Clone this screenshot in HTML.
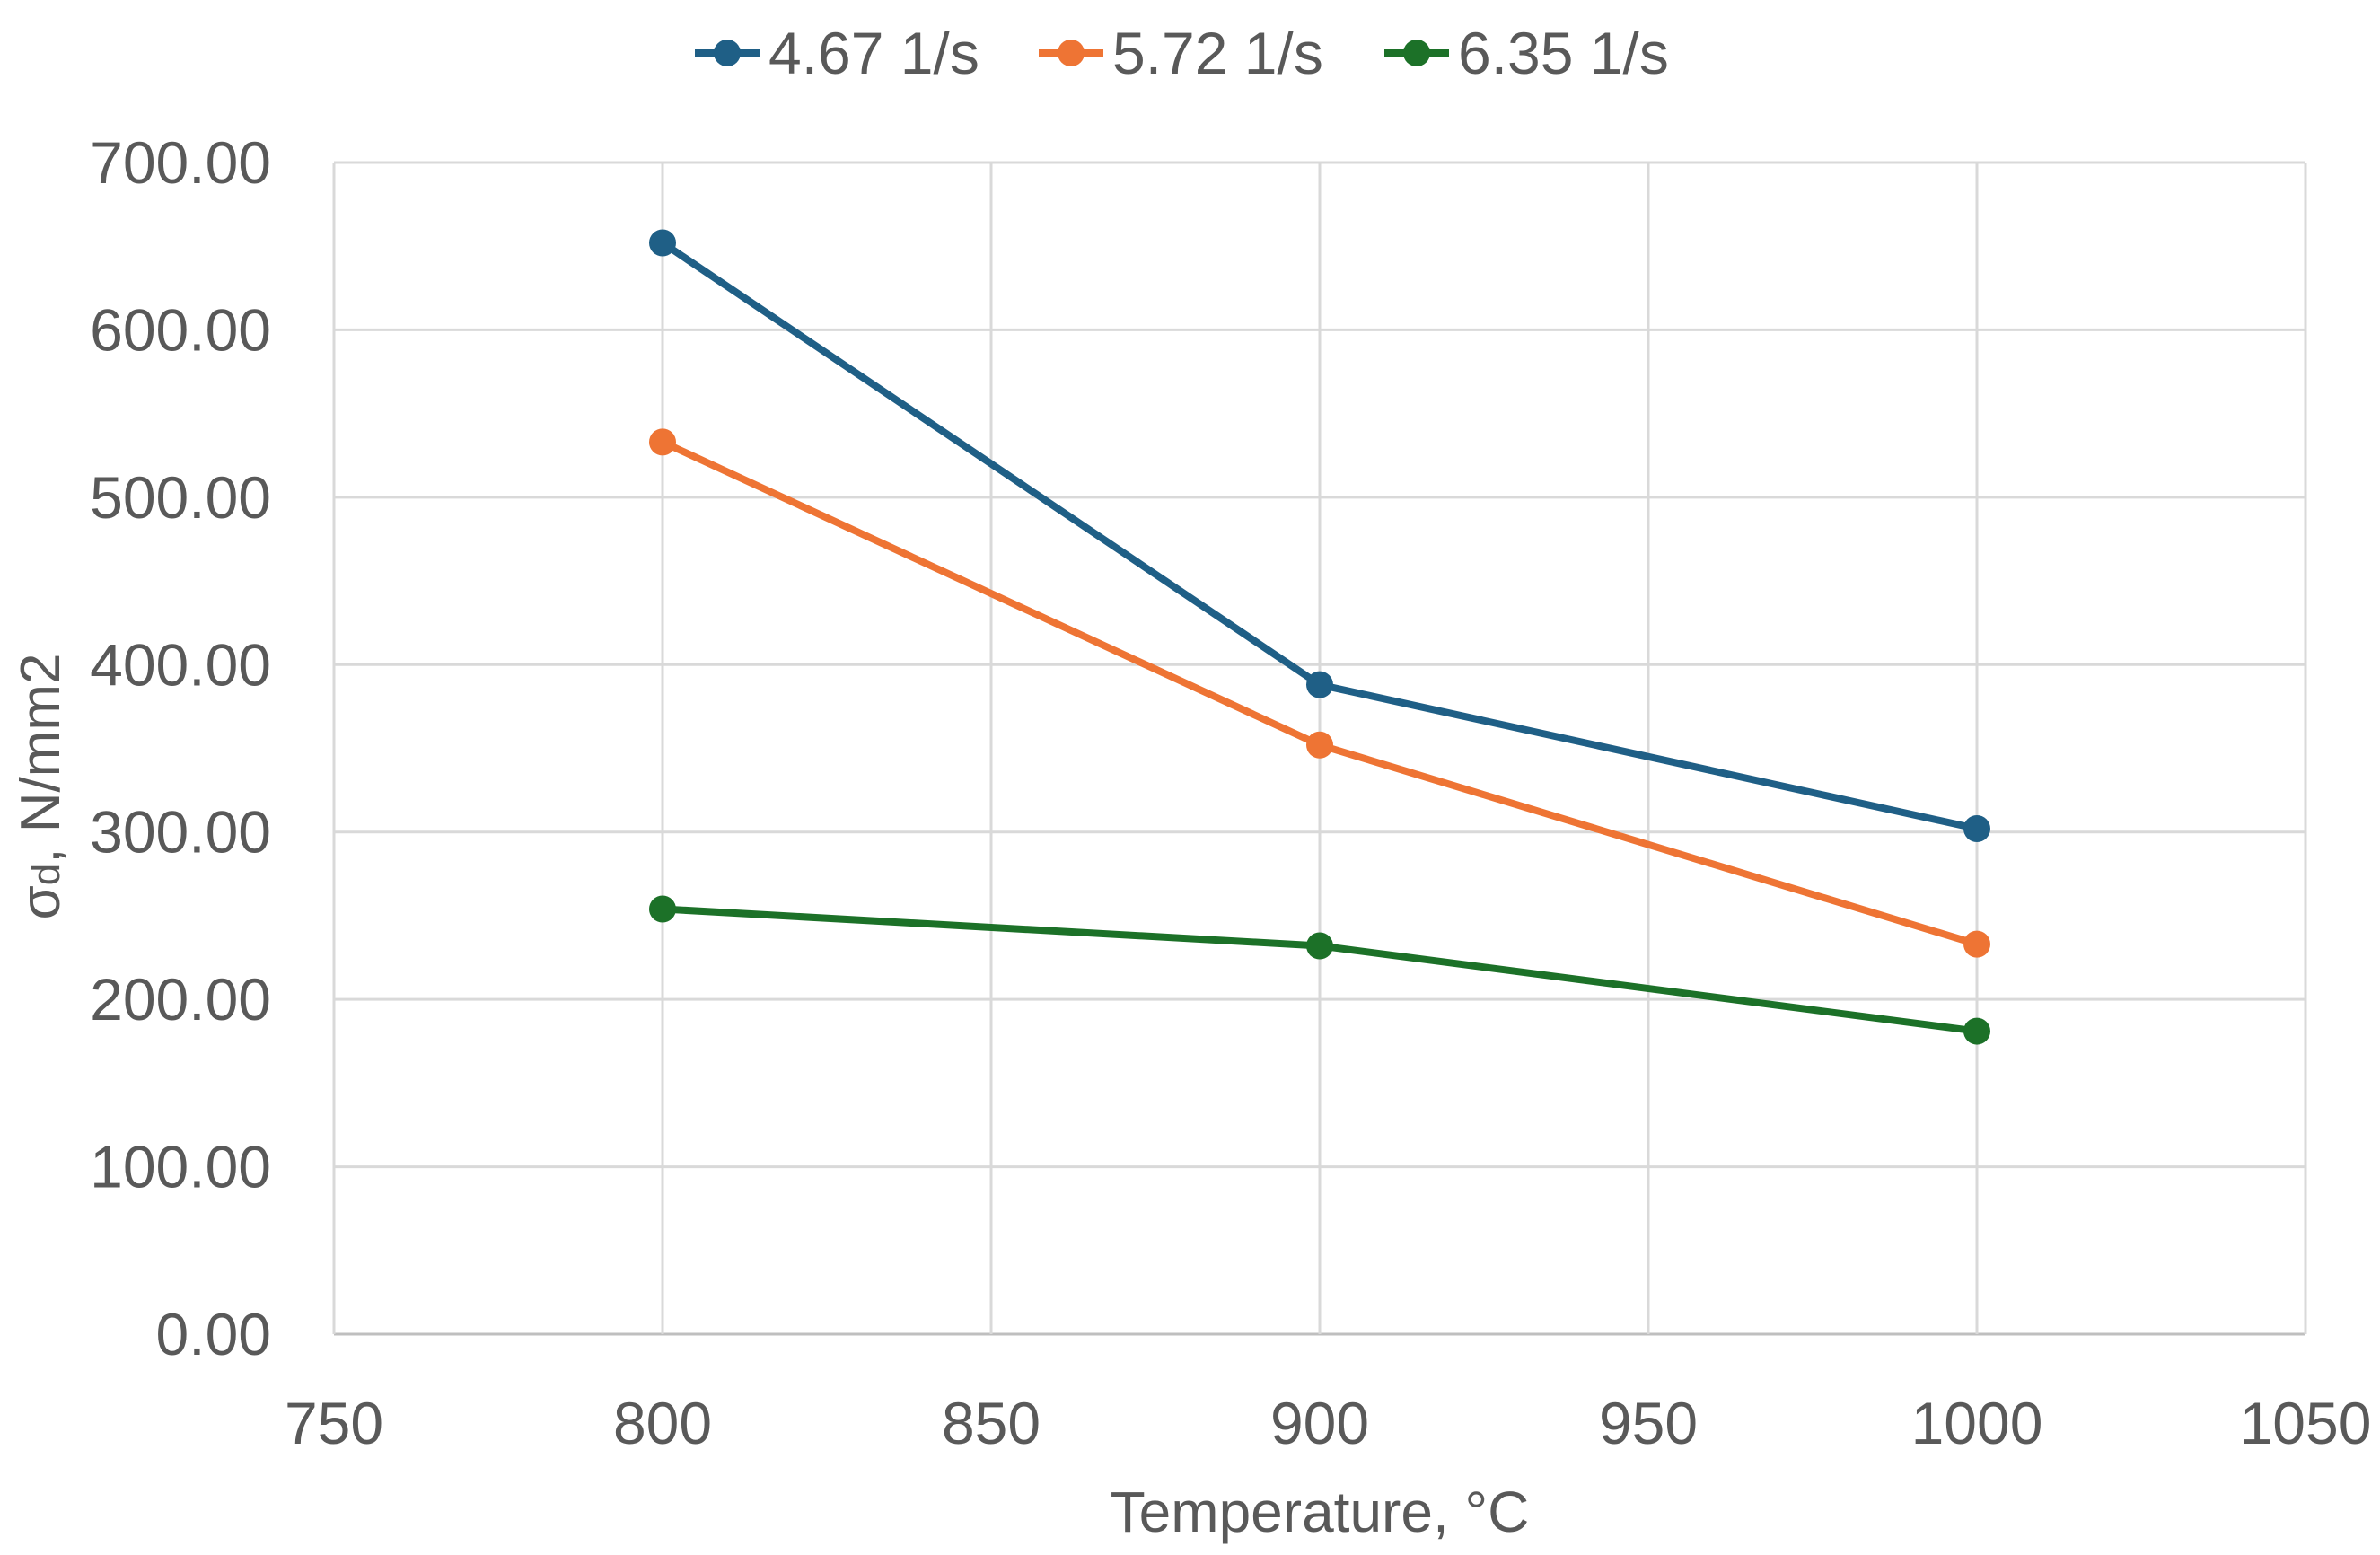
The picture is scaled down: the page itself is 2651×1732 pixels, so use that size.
<!DOCTYPE html>
<html><head><meta charset="utf-8"><style>
html,body{margin:0;padding:0;background:#fff;width:2651px;height:1732px;overflow:hidden}
svg text{font-family:"Liberation Sans",sans-serif;fill:#595959}
</style></head><body>
<svg id="chart" width="2651" height="1732" viewBox="0 0 2651 1732" xmlns="http://www.w3.org/2000/svg">
<g id="grid"></g>
<g id="axes"></g>
<g id="series"></g>
<g id="legend"></g>
<text x="1470" y="1706" font-size="64" text-anchor="middle">Temperature, °C</text>
<text transform="translate(66,876) rotate(-90)" font-size="62" text-anchor="middle">σ<tspan font-size="44">d</tspan>, N/mm2</text>
</svg>
<script>
const categories = [800, 900, 1000];
const seriesNames = ["4.67 1/s", "5.72 1/s", "6.35 1/s"];
const seriesA = [652, 388, 302];
const seriesB = [533, 352, 233];
const seriesC = [254, 232, 181];
const xTicks = [750, 800, 850, 900, 950, 1000, 1050];
const yTicks = [0, 100, 200, 300, 400, 500, 600, 700];
const colors = ["#1f5f86", "#ee7434", "#1c7128"];
const NS = "http://www.w3.org/2000/svg";
const L = 372, R = 2568, T = 181, B = 1486;
const xs = v => L + (v - 750) / 300 * (R - L);
const ys = v => B - v / 700 * (B - T);
function mk(tag, attrs, parent) { const e = document.createElementNS(NS, tag); for (const k in attrs) e.setAttribute(k, attrs[k]); parent.appendChild(e); return e; }
const grid = document.getElementById('grid'), axes = document.getElementById('axes'), ser = document.getElementById('series'), leg = document.getElementById('legend');
yTicks.forEach(v => {
  const l = mk('line', {x1: L, x2: R, y1: ys(v), y2: ys(v), stroke: v === 0 ? '#bfbfbf' : '#d9d9d9', 'stroke-width': 3}, grid);
  
  
  const t = mk('text', {x: 302, y: ys(v) + 23, 'font-size': 66, 'text-anchor': 'end'}, axes);
  t.textContent = v.toFixed(2);
  
  
});
xTicks.forEach(v => {
  const l = mk('line', {x1: xs(v), x2: xs(v), y1: T, y2: B, stroke: '#d9d9d9', 'stroke-width': 3}, grid);
  
  
  const t = mk('text', {x: xs(v), y: 1608, 'font-size': 66, 'text-anchor': 'middle'}, axes);
  t.textContent = v;
  
  
});
[seriesA, seriesB, seriesC].forEach((d, i) => {
  const pts = d.map((v, j) => xs(categories[j]) + ',' + ys(v)).join(' ');
  const pl = mk('polyline', {points: pts, fill: 'none', stroke: colors[i], 'stroke-width': 8, 'stroke-linejoin': 'round'}, ser);
  
  
  d.forEach((v, j) => {
    const c = mk('circle', {cx: xs(categories[j]), cy: ys(v), r: 15, fill: colors[i]}, ser);
    
    
  });
  const lx = [774, 1157, 1542][i];
  const ll = mk('line', {x1: lx, x2: lx + 72, y1: 59, y2: 59, stroke: colors[i], 'stroke-width': 8}, leg);
  
  
  const lc = mk('circle', {cx: lx + 36, cy: 59, r: 15, fill: colors[i]}, leg);
  
  
  const lt = mk('text', {x: lx + 82, y: 82, 'font-size': 66}, leg);
  lt.textContent = seriesNames[i];
  
  
});
</script>
</body></html>
